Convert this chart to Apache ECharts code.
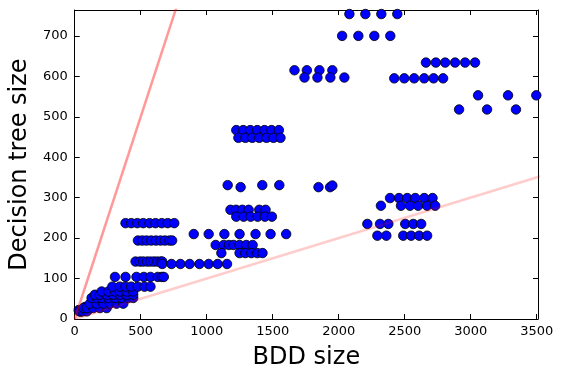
<!DOCTYPE html>
<html>
<head>
<meta charset="utf-8">
<script src="https://cdn.jsdelivr.net/npm/echarts@6/dist/echarts.min.js"></script>
<style>
    html, body { margin: 0; padding: 0; background: #fff; }
    #chart { width: 564px; height: 380px; }
</style>
</head>
<body>
<div id="chart"></div>
<script>
// points are [BDD size, decision tree size]
const lowCluster = [
    [30, 22], [45, 18], [70, 20], [100, 22], [80, 30], [35, 19], [60, 19], [91, 19],
    [66, 27], [91, 27], [141, 27], [191, 27], [242, 27],
    [116, 38], [166, 38], [217, 38], [267, 38], [317, 38], [368, 38],
    [128, 52], [166, 52], [204, 52], [255, 52], [305, 52], [355, 52], [406, 52], [443, 52],
    [153, 60], [191, 60], [242, 60], [292, 60], [342, 60], [393, 60], [443, 60],
    [204, 68], [255, 68], [305, 68], [342, 68], [393, 68], [443, 68]
];
const row80 = [285, 342, 385, 428, 478, 529, 574];
const row104 = [305, 385, 468, 524, 574, 630, 660, 675];
const row142 = [461, 494, 519, 549, 574, 600, 625, 650, 663];
const row136 = [663, 733, 801, 871, 945, 1015, 1083, 1154];
const row194 = [479, 512, 544, 580, 615, 650, 683, 718, 738];
const row237 = [385, 428, 474, 519, 567, 612, 660, 705, 754];
const row210 = [902, 1015, 1134, 1249, 1370, 1484, 1602];
const row183 = [1068, 1129, 1169, 1204, 1249, 1300, 1348];
const row163 = [1111, 1249, 1292, 1338, 1383, 1423];
const row270 = [1180, 1222, 1270, 1318, 1398, 1446];
const row253 = [1224, 1280, 1333, 1386, 1441, 1494];
const row467 = [1224, 1277, 1330, 1383, 1438, 1491, 1547];
const row448 = [1240, 1293, 1345, 1398, 1453, 1506, 1559];
const row615 = [1665, 1759, 1854, 1952];
const row597 = [1741, 1839, 1937, 2043];
const row754 = [2081, 2202, 2323, 2444];
const row700 = [2026, 2149, 2270, 2391];
const row634 = [2661, 2736, 2807, 2882, 2958, 3033];
const row595 = [2421, 2497, 2572, 2648, 2719, 2791];
const row553 = [3056, 3283, 3497];
const row518 = [2912, 3124, 3343];
const row299 = [2389, 2457, 2519, 2580, 2648, 2711];
const row280 = [2320, 2472, 2540, 2602, 2670, 2731];
const row235 = [2217, 2313, 2376, 2504, 2565, 2625];
const row206 = [2293, 2361, 2489, 2549, 2610, 2670];
const loose = [
    [1159, 331], [1257, 326], [1421, 331], [1550, 331],
    [1847, 326], [1935, 326], [1952, 330]
];

// reference lines y = x and y = x / 10
const diagLine = [[0, 0], [800, 800]];
const tenthLine = [[0, 0], [3600, 360]];

const xTicks = [0, 500, 1000, 1500, 2000, 2500, 3000, 3500];
const yTicks = [0, 100, 200, 300, 400, 500, 600, 700];

const rows = [
    [row80, 80], [row104, 104], [row142, 142], [row136, 136], [row194, 194],
    [row237, 237], [row210, 210], [row183, 183], [row163, 163], [row270, 270],
    [row253, 253], [row467, 467], [row448, 448], [row615, 615], [row597, 597],
    [row754, 754], [row700, 700], [row634, 634], [row595, 595], [row553, 553],
    [row518, 518], [row299, 299], [row280, 280], [row235, 235], [row206, 206]
];
const points = lowCluster.concat(loose);
rows.forEach(([xs, y]) => xs.forEach(x => points.push([x, y])));

const font = 'DejaVu Sans';
const xMax = 3510, yMax = 764;

const axisCommon = {
    type: 'value',
    axisLine: { show: true, onZero: false, lineStyle: { color: '#000', width: 1 } },
    axisTick: { show: true, inside: true, length: 5, lineStyle: { color: '#000' } },
    splitLine: { show: false }
};

const chart = echarts.init(document.getElementById('chart'));
chart.setOption({
    animation: false,
    grid: { left: 73, right: 26, top: 10, bottom: 61 },
    xAxis: [
        Object.assign({}, axisCommon, {
            min: 0, max: xMax, interval: 500,
            name: 'BDD size', nameLocation: 'middle', nameGap: 27,
            nameTextStyle: { fontFamily: font, fontSize: 24, color: '#000' },
            axisLabel: {
                fontFamily: font, fontSize: 13, color: '#000', margin: 6,
                formatter: v => xTicks.includes(v) ? String(v) : ''
            }
        }),
        Object.assign({}, axisCommon, {
            position: 'top', min: 0, max: xMax, interval: 500,
            axisLabel: { show: false }
        })
    ],
    yAxis: [
        Object.assign({}, axisCommon, {
            min: 0, max: yMax, interval: 100,
            name: 'Decision tree size', nameLocation: 'middle', nameGap: 37,
            nameTextStyle: { fontFamily: font, fontSize: 24, color: '#000' },
            axisLabel: {
                fontFamily: font, fontSize: 13, color: '#000', margin: 7,
                formatter: v => yTicks.includes(v) ? String(v) : ''
            }
        }),
        Object.assign({}, axisCommon, {
            position: 'right', min: 0, max: yMax, interval: 100,
            axisLabel: { show: false }
        })
    ],
    series: [
        {
            type: 'scatter',
            data: points,
            symbol: 'circle',
            symbolSize: 9.5,
            itemStyle: { color: '#0000ff', borderColor: '#000', borderWidth: 0.8, opacity: 1 },
            z: 2
        },
        {
            type: 'line',
            data: diagLine,
            symbol: 'none',
            clip: true,
            lineStyle: { color: 'rgba(255,0,0,0.4)', width: 2.5 },
            z: 3
        },
        {
            type: 'line',
            data: tenthLine,
            symbol: 'none',
            clip: true,
            lineStyle: { color: 'rgba(255,0,0,0.2)', width: 2.5 },
            z: 3
        }
    ]
});
</script>
</body>
</html>
